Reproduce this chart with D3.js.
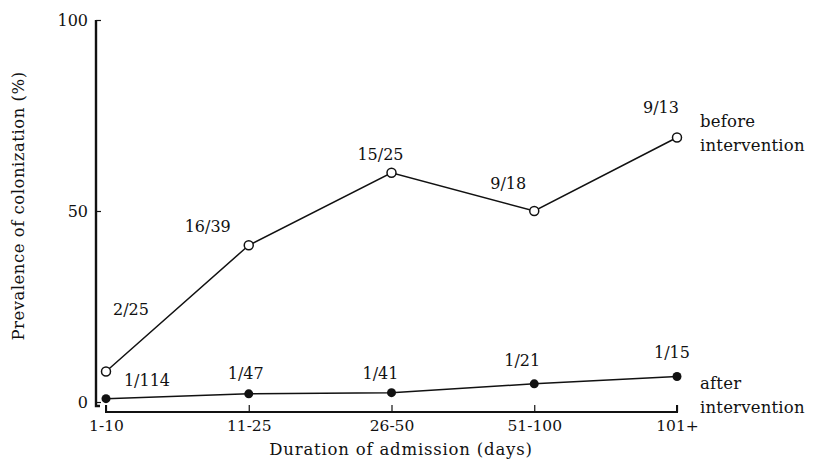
<!DOCTYPE html>
<html>
<head>
<meta charset="utf-8">
<script src="https://cdn.jsdelivr.net/npm/d3@7"></script>
<style>
  body { margin: 0; background: #fff; }
</style>
</head>
<body>
<div id="chart"></div>
<script>
var svgWidth = 813;
var svgHeight = 467;
var serif = "'DejaVu Serif', 'Liberation Serif', serif";

// data
var categories = ["1-10", "11-25", "26-50", "51-100", "101+"];
var beforeCounts = ["2/25", "16/39", "15/25", "9/18", "9/13"];
var afterCounts = ["1/114", "1/47", "1/41", "1/21", "1/15"];
var yTicks = [0, 50, 100];

var pct = s => { var p = s.split("/"); return 100 * p[0] / p[1]; };
var before = categories.map((c, i) => ({ cat: c, label: beforeCounts[i], value: pct(beforeCounts[i]) }));
var after = categories.map((c, i) => ({ cat: c, label: afterCounts[i], value: pct(afterCounts[i]) }));

var svg = d3.select("#chart")
  .append("svg")
  .attr("width", svgWidth)
  .attr("height", svgHeight)
  .style("font-family", serif);

var x = d3.scalePoint()
  .domain(categories)
  .range([106, 677]);

var y = d3.scaleLinear()
  .domain([0, 100])
  .range([402, 20]);

function styleText(sel, size, spacing) {
  sel.style("font-family", serif)
    .style("font-size", size + "px")
    .style("letter-spacing", (spacing || 0) + "px")
    .attr("fill", "#111");
}

// y axis
var leftAxis = svg.append("g")
  .attr("transform", "translate(96,0)")
  .call(d3.axisLeft(y).tickValues(yTicks).tickSize(-5).tickPadding(8));
leftAxis.attr("font-family", null);
leftAxis.select(".domain").attr("d", "M0," + y(100) + "V406H4").attr("stroke", "#111").attr("stroke-width", 2.4).attr("fill", "none");
leftAxis.selectAll(".tick line").attr("stroke", "#111").attr("stroke-width", 1.2);
styleText(leftAxis.selectAll(".tick text"), 16);

// x axis
var bottomAxis = svg.append("g")
  .attr("transform", "translate(0,412)")
  .call(d3.axisBottom(x).tickSize(-7).tickPadding(8));
bottomAxis.attr("font-family", null);
bottomAxis.select(".domain").attr("d", "M" + x("1-10") + ",-7V0H" + x("101+") + "V-7").attr("stroke", "#111").attr("stroke-width", 2).attr("fill", "none");
bottomAxis.selectAll(".tick line").attr("stroke", "#111").attr("stroke-width", 1.2);
styleText(bottomAxis.selectAll(".tick text"), 15.5);

// axis titles
styleText(svg.append("text")
  .attr("x", 401)
  .attr("y", 455)
  .attr("text-anchor", "middle")
  .text("Duration of admission (days)"), 16.5, 0.8);

styleText(svg.append("text")
  .attr("transform", "translate(24,206) rotate(-90)")
  .attr("text-anchor", "middle")
  .text("Prevalence of colonization (%)"), 16.5, 0.5);

var line = d3.line()
  .x(d => x(d.cat))
  .y(d => y(d.value));

[before, after].forEach(series => {
  svg.append("path")
    .datum(series)
    .attr("d", line)
    .attr("fill", "none")
    .attr("stroke", "#111")
    .attr("stroke-width", 1.5);
});

svg.selectAll("circle.before")
  .data(before)
  .enter()
  .append("circle")
  .attr("class", "before")
  .attr("cx", d => x(d.cat))
  .attr("cy", d => y(d.value))
  .attr("r", 4.5)
  .attr("fill", "#fff")
  .attr("stroke", "#111")
  .attr("stroke-width", 1.5);

svg.selectAll("circle.after")
  .data(after)
  .enter()
  .append("circle")
  .attr("class", "after")
  .attr("cx", d => x(d.cat))
  .attr("cy", d => y(d.value))
  .attr("r", 4.5)
  .attr("fill", "#111");

// point labels, offsets of the label baseline from each point
var beforeOff = [[25, -56], [-41, -13], [-11, -13], [-26, -22], [-16, -25]];
var afterOff = [[41, -13], [-3, -15], [-11, -14], [-12, -18], [-5, -19]];

styleText(svg.selectAll("text.blab")
  .data(before)
  .enter()
  .append("text")
  .attr("class", "blab")
  .attr("x", (d, i) => x(d.cat) + beforeOff[i][0])
  .attr("y", (d, i) => y(d.value) + beforeOff[i][1])
  .attr("text-anchor", "middle")
  .text(d => d.label), 16);

styleText(svg.selectAll("text.alab")
  .data(after)
  .enter()
  .append("text")
  .attr("class", "alab")
  .attr("x", (d, i) => x(d.cat) + afterOff[i][0])
  .attr("y", (d, i) => y(d.value) + afterOff[i][1])
  .attr("text-anchor", "middle")
  .text(d => d.label), 16);

// series names
function seriesName(lines, ypos) {
  var t = svg.append("text")
    .attr("x", 700)
    .attr("y", ypos);
  styleText(t, 16.5, 0.2);
  lines.forEach((s, i) => {
    t.append("tspan").attr("x", 700).attr("dy", i ? 24 : 0).text(s);
  });
}
seriesName(["before", "intervention"], y(before[4].value) - 11);
seriesName(["after", "intervention"], y(after[4].value) + 12);
</script>
</body>
</html>
